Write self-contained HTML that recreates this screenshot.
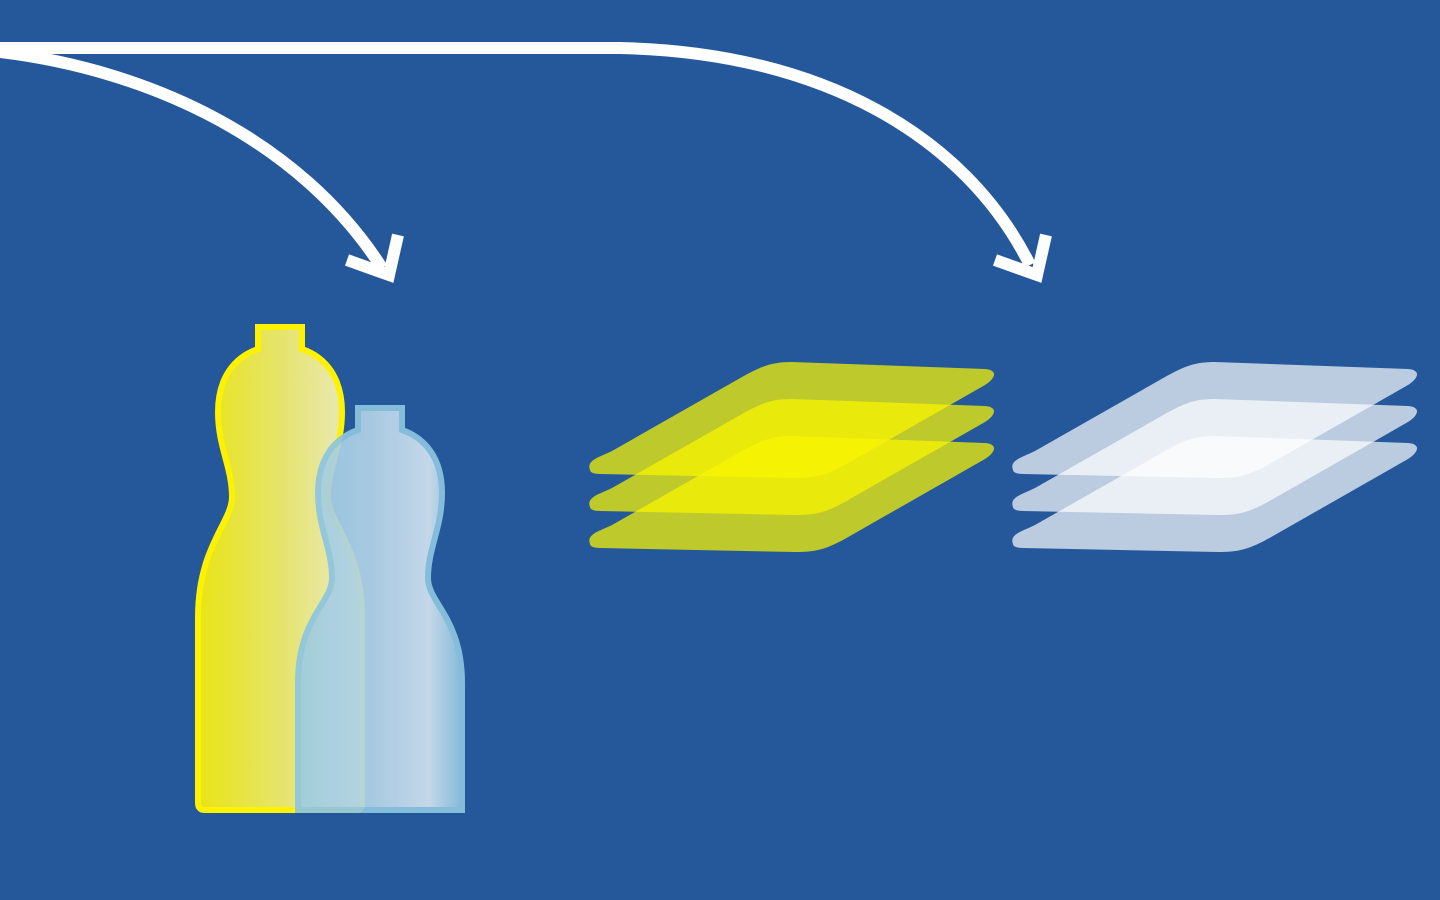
<!DOCTYPE html>
<html><head><meta charset="utf-8"><style>
html,body{margin:0;padding:0;background:#24589a;}
svg{display:block}
</style></head><body>
<svg width="1440" height="900" viewBox="0 0 1440 900" xmlns="http://www.w3.org/2000/svg">
<defs>
<linearGradient id="gy" x1="0" x2="1" y1="0" y2="0">
<stop offset="0" stop-color="#e8e415"/>
<stop offset="0.5" stop-color="#e6e46a"/>
<stop offset="0.85" stop-color="#e8e8ac"/>
<stop offset="1" stop-color="#e4e27a"/>
</linearGradient>
<linearGradient id="gb" x1="0" x2="1" y1="0" y2="0">
<stop offset="0" stop-color="#9ccbe0"/>
<stop offset="0.45" stop-color="#b3d3e8"/>
<stop offset="0.8" stop-color="#d2e2f0"/>
<stop offset="1" stop-color="#8ec3de"/>
</linearGradient>
<path id="sheet" d="M590,470 C586,460 600,457 612,451 L742,377 C762,366 772,362 792,362 L985,369 C998,370 996,378 985,385 L850,462 C826,476 815,478 795,478 L600,474 C593,474 590,472 590,470 Z"/>
</defs>
<g fill="none" stroke="#fff" stroke-width="12">
<path d="M0,48 L620,48 C820,52 965,135 1030,265"/>
<path d="M0,52 C150,70 300,140 382,268"/>
<path d="M347,260 L389,275 L398,235" stroke-linejoin="miter"/>
<path d="M995,260 L1037,275 L1046,235" stroke-linejoin="miter"/>
</g>
<g transform="translate(280,327)">
<path d="M-22,0 L22,0 L22,22 C45,30 62,50 62,85 C62,120 48,140 48,170 C48,195 82,220 82,290 L82,476 C82,482 80,483 76,483 L-76,483 C-80,483 -82,480 -82,476 L-82,290 C-82,220 -48,195 -48,170 C-48,140 -62,120 -62,85 C-62,50 -45,30 -22,22 Z" fill="url(#gy)" stroke="#fff200" stroke-width="6"/>
</g>
<g transform="translate(380,408)" opacity="0.92">
<path d="M-22,0 L22,0 L22,22 C45,30 62,50 62,85 C62,120 48,140 48,170 C48,195 82,210 82,275 L82,402 L-82,402 L-82,275 C-82,210 -48,195 -48,170 C-48,140 -62,120 -62,85 C-62,50 -45,30 -22,22 Z" fill="url(#gb)" stroke="#8ec5e0" stroke-width="6"/>
</g>
<g fill="rgb(250,245,0)">
<use href="#sheet" y="74" fill-opacity="0.72"/>
<use href="#sheet" y="37" fill-opacity="0.72"/>
<use href="#sheet" y="0" fill-opacity="0.72"/>
</g>
<g fill="#fff" transform="translate(423,0)">
<use href="#sheet" y="74" fill-opacity="0.69"/>
<use href="#sheet" y="37" fill-opacity="0.69"/>
<use href="#sheet" y="0" fill-opacity="0.69"/>
</g>
</svg>
</body></html>
